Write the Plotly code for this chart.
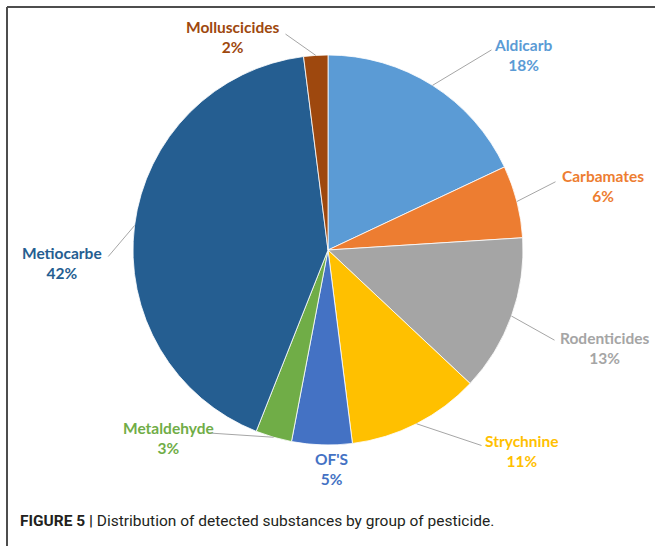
import math
import plotly.graph_objects as go

# ---- data ----
labels = ["Aldicarb", "Carbamates", "Rodenticides", "Strychnine", "OF'S",
          "Metaldehyde", "Metiocarbe", "Molluscicides"]
values = [18, 6, 13, 11, 5, 3, 42, 2]
colors = ["#5B9BD5", "#ED7D31", "#A5A5A5", "#FFC000", "#4472C4",
          "#70AD47", "#255E91", "#9E480E"]
caption_bold = "FIGURE 5 |"
caption_text = "Distribution of detected substances by group of pesticide."

# ---- layout (pixels) ----
W, H = 655, 546
cx, cy, R = 328, 250, 195
# label centres and leader-line elbow points (layout choices)
label_pos = {
    "Aldicarb": (523, 55), "Carbamates": (603, 186), "Rodenticides": (605, 348),
    "Strychnine": (522, 451), "OF'S": (331, 469), "Metaldehyde": (168, 438),
    "Metiocarbe": (62, 263), "Molluscicides": (232, 37),
}
elbow_pos = {
    "Aldicarb": (493, 49), "Carbamates": (557, 181), "Rodenticides": (556, 341),
    "Strychnine": (483, 446), "Metaldehyde": (209, 433),
    "Metiocarbe": (107, 258), "Molluscicides": (284, 33),
}

def px(x):
    return x / W

def py(y):
    return 1 - y / H

fig = go.Figure(go.Pie(
    labels=labels, values=values, sort=False, direction="clockwise", rotation=0,
    marker=dict(colors=colors, line=dict(color="white", width=0.8)),
    textinfo="none", hoverinfo="label+percent", showlegend=False,
    domain=dict(x=[px(cx - R), px(cx + R)], y=[py(cy + R), py(cy - R)]),
))

annotations = []
total = sum(values)
cum = 0
for lab, val, col in zip(labels, values, colors):
    mid = (cum + val / 2) / total * 2 * math.pi
    cum += val
    tipx = cx + R * math.sin(mid)
    tipy = cy - R * math.cos(mid)
    pct = round(val / total * 100)
    lx, ly = label_pos[lab]
    annotations.append(dict(
        x=px(lx), y=py(ly), xref="paper", yref="paper", showarrow=False,
        text=f"<b>{lab}</b><br><b>{pct}%</b>", align="center",
        font=dict(family="Lato, 'Open Sans', sans-serif", size=15.5, color=col),
        xanchor="center", yanchor="middle",
    ))
    if lab in elbow_pos:
        ex, ey = elbow_pos[lab]
        annotations.append(dict(
            x=px(tipx), y=py(tipy), xref="paper", yref="paper", text="",
            showarrow=True, arrowhead=0, arrowwidth=1, arrowcolor="#A6A6A6",
            ax=ex - tipx, ay=ey - tipy, standoff=0, startstandoff=0,
        ))

annotations.append(dict(
    x=px(18), y=py(521), xref="paper", yref="paper", showarrow=False,
    xanchor="left", yanchor="middle",
    text=f"<b>{caption_bold}</b> {caption_text}",
    font=dict(family="Roboto, sans-serif", size=15.5, color="#231F20"),
))

shapes = [
    dict(type="line", xref="paper", yref="paper", x0=px(7), x1=1, y0=py(7), y1=py(7),
         line=dict(color="#4D4D4D", width=2)),
    dict(type="line", xref="paper", yref="paper", x0=px(7), x1=px(7), y0=py(7), y1=0,
         line=dict(color="#4D4D4D", width=2)),
]

fig.update_layout(
    width=W, height=H, margin=dict(l=0, r=0, t=0, b=0),
    paper_bgcolor="white", plot_bgcolor="white",
    annotations=annotations, shapes=shapes,
)
fig.write_html("out.html", config={"displayModeBar": False},
               post_script="document.body.style.margin='0px';document.body.style.overflow='hidden';")
